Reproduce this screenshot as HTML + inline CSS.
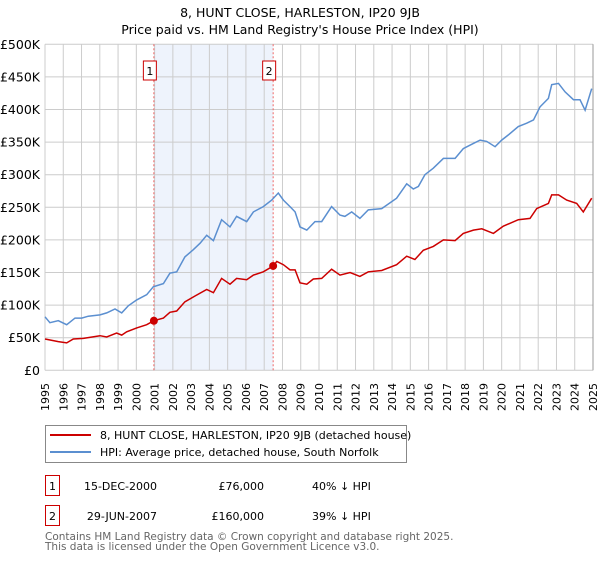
<!DOCTYPE html>
<html><head><meta charset="utf-8"><style>
body{margin:0;background:#fff;font-family:"DejaVu Sans","Liberation Sans",sans-serif;}
svg text{font-family:"DejaVu Sans","Liberation Sans",sans-serif;}
</style></head><body>
<svg id="chart" width="600" height="560" xmlns="http://www.w3.org/2000/svg">
<text x="300" y="17" text-anchor="middle" font-size="12.5" fill="#000">8, HUNT CLOSE, HARLESTON, IP20 9JB</text>
<text x="300" y="34" text-anchor="middle" font-size="12.5" fill="#000">Price paid vs. HM Land Registry's House Price Index (HPI)</text>
<g id="plot"></g>
<g>
<rect x="45.5" y="425.5" width="361" height="37" fill="#fff" stroke="#888"/>
<line x1="50" y1="435" x2="91" y2="435" stroke="#cc0000" stroke-width="2"/>
<text x="100" y="439" font-size="11">8, HUNT CLOSE, HARLESTON, IP20 9JB (detached house)</text>
<line x1="50" y1="452" x2="91" y2="452" stroke="#5b8fd0" stroke-width="2"/>
<text x="100" y="456" font-size="11">HPI: Average price, detached house, South Norfolk</text>
</g>
<g font-size="11">
<rect x="45.5" y="475.5" width="14" height="20" fill="#fff" stroke="#cc0000"/>
<text x="52.5" y="490" text-anchor="middle">1</text>
<text x="157" y="490" text-anchor="end">15-DEC-2000</text>
<text x="264" y="490" text-anchor="end">£76,000</text>
<text x="312" y="490">40% ↓ HPI</text>
<rect x="45.5" y="505.5" width="14" height="20" fill="#fff" stroke="#cc0000"/>
<text x="52.5" y="520" text-anchor="middle">2</text>
<text x="157" y="520" text-anchor="end">29-JUN-2007</text>
<text x="264" y="520" text-anchor="end">£160,000</text>
<text x="312" y="520">39% ↓ HPI</text>
</g>
<text x="45" y="540" font-size="10.5" fill="#666">Contains HM Land Registry data © Crown copyright and database right 2025.</text>
<text x="45" y="550" font-size="10.5" fill="#666">This data is licensed under the Open Government Licence v3.0.</text>
</svg>
<script>
const hpiYears=[1995.0,1995.27,1995.73,1996.19,1996.64,1997.01,1997.37,1998.01,1998.38,1998.83,1999.2,1999.56,2000.02,2000.57,2000.93,2001.48,2001.84,2002.21,2002.66,2003.12,2003.49,2003.85,2004.22,2004.67,2005.13,2005.49,2006.04,2006.41,2006.95,2007.41,2007.77,2008.05,2008.41,2008.69,2008.96,2009.33,2009.78,2010.15,2010.69,2011.15,2011.42,2011.79,2012.24,2012.7,2013.43,2014.25,2014.8,2015.16,2015.44,2015.8,2016.26,2016.81,2017.45,2017.9,2018.45,2018.82,2019.18,2019.64,2020.0,2020.37,2020.91,2021.37,2021.74,2022.1,2022.56,2022.74,2023.11,2023.47,2023.93,2024.29,2024.57,2024.93];
const hpiValues=[82,73,76,70,80,80,83,85,88,94,88,99,108,116,128,133,149,151,174,185,195,207,199,231,220,236,228,243,251,261,272,261,251,243,220,215,228,228,251,238,236,243,233,246,248,264,286,278,282,300,310,325,325,340,348,353,351,343,353,361,374,379,384,404,417,438,440,427,415,415,399,432];
const ppYears=[1995.0,1995.73,1996.19,1996.55,1997.1,1998.01,1998.38,1998.92,1999.2,1999.47,2000.02,2000.57,2000.96,2001.48,2001.84,2002.21,2002.66,2003.21,2003.85,2004.22,2004.67,2005.13,2005.49,2006.04,2006.41,2006.95,2007.49,2007.69,2008.05,2008.41,2008.69,2008.96,2009.33,2009.69,2010.15,2010.69,2011.15,2011.7,2012.24,2012.7,2013.43,2014.25,2014.8,2015.25,2015.71,2016.26,2016.81,2017.45,2017.9,2018.45,2018.91,2019.55,2020.09,2020.91,2021.55,2021.92,2022.56,2022.74,2023.11,2023.56,2024.11,2024.47,2024.93];
const ppValues=[48,44,42,48,49,53,51,57,54,59,65,70,76,80,89,91,105,114,124,119,141,132,141,139,146,151,160,167,162,154,154,134,132,140,141,155,146,150,144,151,153,162,175,170,184,190,200,199,210,215,217,210,221,231,233,248,256,269,269,261,256,243,264];
const saleYears=[2000.96,2007.49];
const saleValues=[76,160];
const saleLabels=["1","2"];
const yTicks=[0,50,100,150,200,250,300,350,400,450,500];
const yTickLabels=["£0","£50K","£100K","£150K","£200K","£250K","£300K","£350K","£400K","£450K","£500K"];
const xTicks=[1995,1996,1997,1998,1999,2000,2001,2002,2003,2004,2005,2006,2007,2008,2009,2010,2011,2012,2013,2014,2015,2016,2017,2018,2019,2020,2021,2022,2023,2024,2025];

const X0=45,X1=593,Y0=370.3,Y1=44.3;
const xs=y=>X0+(y-1995)/30*(X1-X0);
const ys=v=>Y0-v/500*(Y0-Y1);
const NS="http://www.w3.org/2000/svg";
const g=document.getElementById('plot');
function mk(t,a){const e=document.createElementNS(NS,t);for(const k in a)e.setAttribute(k,a[k]);g.appendChild(e);return e;}
let e=mk('rect',{x:xs(saleYears[0]),y:Y1,width:xs(saleYears[1])-xs(saleYears[0]),height:Y0-Y1,fill:'#eef3fc'});


yTicks.forEach((t,i)=>{
 let l=mk('line',{x1:X0,x2:X1,y1:ys(t),y2:ys(t),stroke:'#cccccc','stroke-width':1});
 
 
 let tx=mk('text',{x:40,y:ys(t)+4.5,'text-anchor':'end','font-size':12.5});
 tx.textContent=yTickLabels[i];
 
 
});
xTicks.forEach(t=>{
 let l=mk('line',{x1:xs(t),x2:xs(t),y1:Y1,y2:Y0,stroke:'#cccccc','stroke-width':1});
 
 
 let tx=mk('text',{x:0,y:0,'text-anchor':'end','font-size':11,transform:`translate(${xs(t)+4},383) rotate(-90)`});
 tx.textContent=t;
 
 
});
saleYears.forEach((s,i)=>{
 let l=mk('line',{x1:xs(s),x2:xs(s),y1:Y1,y2:Y0,stroke:'#ee6666','stroke-width':1,'stroke-dasharray':'2,2'});
 
 
 let r=mk('rect',{x:xs(s)-10.5,y:61,width:13,height:19,fill:'#fff',stroke:'#cc0000'});
 
 
 let tx=mk('text',{x:xs(s)-4,y:75,'text-anchor':'middle','font-size':11});
 tx.textContent=saleLabels[i];
 
 
});
const path=(xa,va)=>xa.map((x,i)=>(i?'L':'M')+xs(x).toFixed(1)+','+ys(va[i]).toFixed(1)).join('');
let hp=mk('path',{d:path(hpiYears,hpiValues),fill:'none',stroke:'#5b8fd0','stroke-width':1.5});


let pp=mk('path',{d:path(ppYears,ppValues),fill:'none',stroke:'#cc0000','stroke-width':1.5});


saleYears.forEach((s,i)=>{
 let c=mk('circle',{cx:xs(s),cy:ys(saleValues[i]),r:4,fill:'#cc0000'});
 
 
});
let ax=mk('line',{x1:X1,x2:X1,y1:Y1,y2:Y0,stroke:'#999','stroke-width':1});


</script>
</body></html>
